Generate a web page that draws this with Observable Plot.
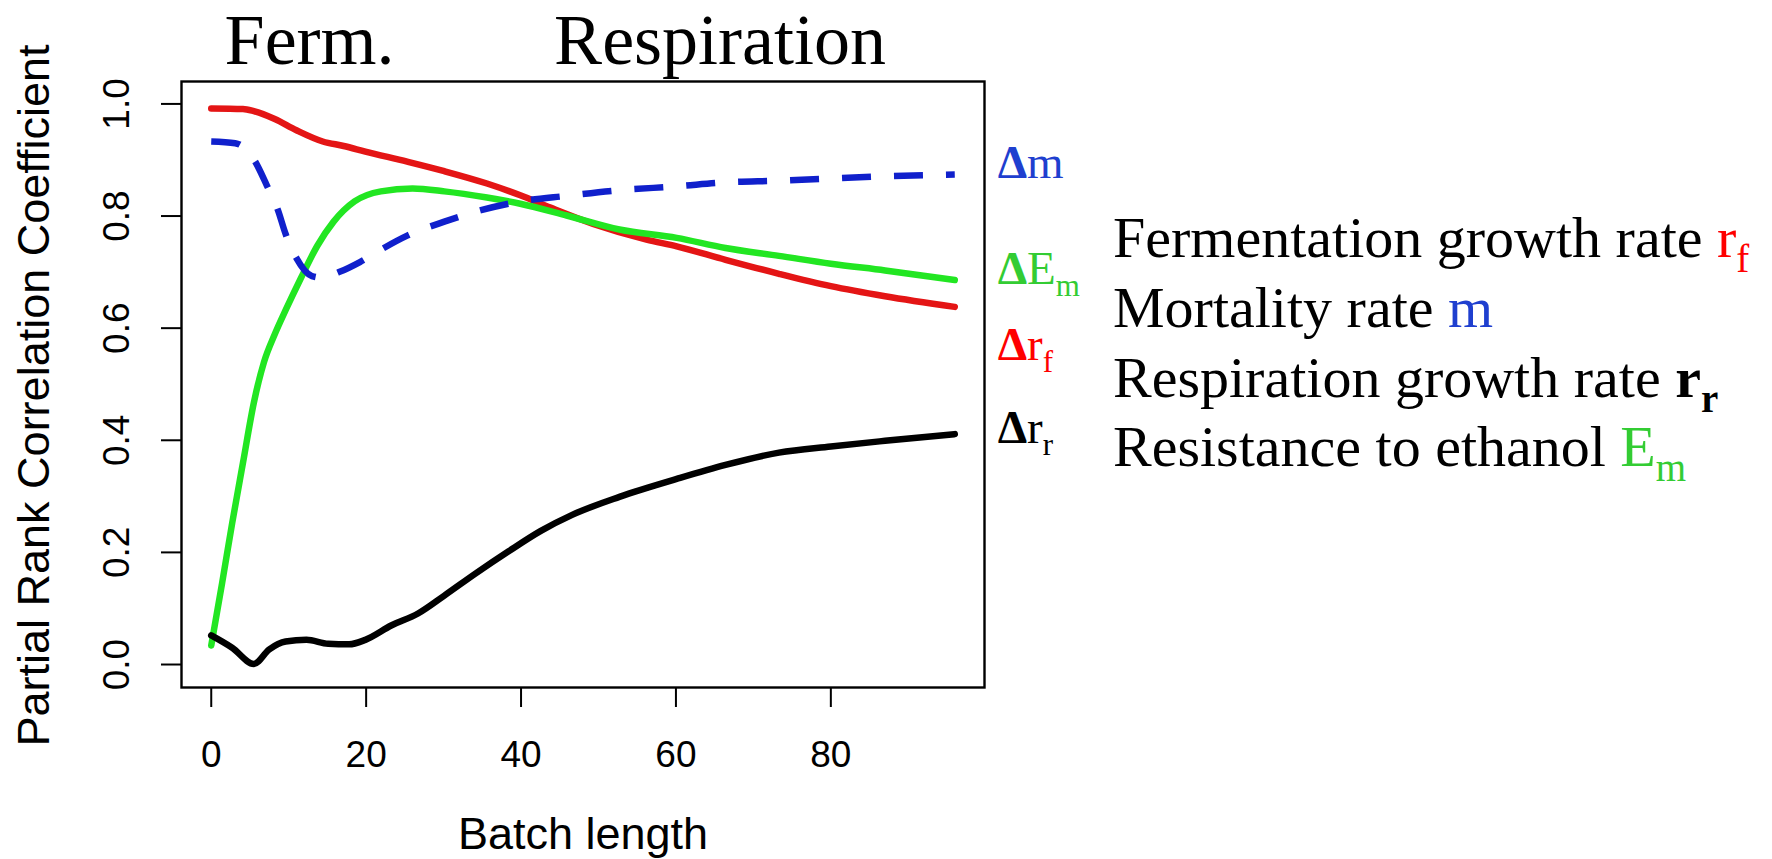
<!DOCTYPE html>
<html><head><meta charset="utf-8">
<script src="https://cdn.jsdelivr.net/npm/d3@7"></script>
<script src="https://cdn.jsdelivr.net/npm/@observablehq/plot@0.6"></script>
<style>
html,body{margin:0;padding:0;background:#fff;}
#chart{position:relative;width:1772px;height:859px;overflow:hidden;}
</style></head><body><div id="chart"></div>
<script>
// ---- data ----
const xTicks = [0, 20, 40, 60, 80];
const yTicks = [0, 0.2, 0.4, 0.6, 0.8, 1.0];
const phaseNames = ["Ferm.", "Respiration"];
const phaseCenters = [12.7, 65.7];

// Δr_f (red)
const rfX = [0, 4.1, 5.5, 8.2, 11.0, 14.4, 17.1, 19.9, 25.3, 30.1, 35.6, 39.9, 43.8, 49.3, 56.2, 60.1, 66.4, 73.3, 80, 87, 96];
const rfY = [0.992, 0.991, 0.987, 0.973, 0.953, 0.933, 0.925, 0.915, 0.897, 0.880, 0.858, 0.837, 0.815, 0.786, 0.758, 0.746, 0.722, 0.697, 0.675, 0.657, 0.638];
// ΔE_m (green)
const emX = [0, 1.4, 2.7, 4.1, 5.5, 6.8, 8.2, 9.6, 11.6, 13.7, 15.8, 18.5, 21.9, 26.0, 30.1, 35.6, 39.9, 45.9, 52.7, 60.1, 66.4, 73.3, 80, 87, 96];
const emY = [0.034, 0.145, 0.252, 0.360, 0.467, 0.539, 0.589, 0.632, 0.690, 0.747, 0.790, 0.826, 0.844, 0.849, 0.844, 0.833, 0.822, 0.801, 0.776, 0.761, 0.743, 0.729, 0.715, 0.703, 0.686];
// Δm (blue, dashed)
const mX = [0, 3.1, 5.5, 7.2, 8.6, 9.6, 11.0, 13.0, 14.4, 16.5, 19.2, 21.9, 25.3, 30.1, 34.2, 39.9, 45.9, 52.7, 60.1, 66.4, 73.3, 80, 87, 96];
const mY = [0.933, 0.930, 0.901, 0.854, 0.811, 0.768, 0.725, 0.693, 0.690, 0.700, 0.718, 0.740, 0.765, 0.790, 0.808, 0.826, 0.836, 0.846, 0.853, 0.860, 0.863, 0.867, 0.871, 0.874];
// Δr_r (black)
const rrX = [0, 2.7, 5.5, 7.5, 9.6, 12.3, 15.1, 17.8, 19.9, 23.3, 26.7, 30.1, 34.2, 38.4, 42.5, 46.6, 52.7, 60.1, 66.4, 73.3, 80, 87, 96];
const rrY = [0.052, 0.030, 0.001, 0.027, 0.041, 0.044, 0.037, 0.036, 0.044, 0.070, 0.091, 0.123, 0.163, 0.202, 0.238, 0.267, 0.299, 0.331, 0.356, 0.378, 0.389, 0.399, 0.411];

// end-of-line labels (Δ + symbol + subscript), placed in data coordinates
const endLabelX = 101.6;
const endSymbols = ["m", "E", "r", "r"];
const endSubs = ["", "m", "f", "r"];
const endLabelY = [0.867, 0.678, 0.542, 0.394];
const endColors = ["#1f3fcf", "#33cc33", "#ff0000", "#000000"];

// legend rows
const legendText = ["Fermentation growth rate ", "Mortality rate ", "Respiration growth rate ", "Resistance to ethanol "];
const legendSym = ["r", "m", "r", "E"];
const legendSub = ["f", "", "r", "m"];
const legendColor = ["#ff0000", "#1f3fcf", "#000000", "#33cc33"];
const legendBold = [false, false, true, false];

const toRows = (xs, ys) => xs.map((x, i) => ({x, y: ys[i]}));

const chart = Plot.plot({
  width: 1772, height: 859,
  marginTop: 81, marginBottom: 172, marginLeft: 181, marginRight: 788,
  x: {domain: [-3.84, 99.84]},
  y: {domain: [-0.041, 1.04]},
  style: {background: "transparent", fontFamily: "'Liberation Sans', Arial, sans-serif", color: "#000", overflow: "visible"},
  marks: [
    Plot.frame({stroke: "#000", strokeWidth: 2.4}),
    Plot.axisX({ticks: xTicks, tickSize: 20, tickPadding: 33, fontSize: 37, label: null, strokeWidth: 2, tickFormat: d => String(d)}),
    Plot.axisY({ticks: yTicks, tickSize: 20, tickPadding: 33, tickRotate: -90, fontSize: 37, label: null, strokeWidth: 2, tickFormat: d3.format(".1f")}),
    Plot.line(toRows(rfX, rfY), {x: "x", y: "y", stroke: "#e41515", strokeWidth: 6.5, curve: "monotone-x"}),
    Plot.line(toRows(emX, emY), {x: "x", y: "y", stroke: "#22e622", strokeWidth: 6.5, curve: "monotone-x"}),
    Plot.line(toRows(mX, mY), {x: "x", y: "y", stroke: "#1020cc", strokeWidth: 6.5, strokeDasharray: "29,23", strokeLinecap: "butt", curve: "monotone-x"}),
    Plot.line(toRows(rrX, rrY), {x: "x", y: "y", stroke: "#000", strokeWidth: 6.5, curve: "monotone-x"}),
    Plot.text(phaseNames, {x: (d, i) => phaseCenters[i], frameAnchor: "top", textAnchor: "middle", lineAnchor: "bottom", dy: -18, fontSize: 72, fontFamily: "'Liberation Serif', 'Times New Roman', serif", text: d => d}),
    Plot.text(["Batch length"], {frameAnchor: "bottom", textAnchor: "middle", lineAnchor: "bottom", dy: 161, fontSize: 45, text: d => d}),
    Plot.text(["Partial Rank Correlation Coefficient"], {frameAnchor: "left", textAnchor: "middle", rotate: -90, lineAnchor: "bottom", dx: -133, dy: 11, fontSize: 45, text: d => d})
  ]
});
document.getElementById("chart").appendChild(chart);

// rich-text labels (subscripts) using the chart's scales
const sx = chart.scale("x"), sy = chart.scale("y");
const svg = d3.select(chart);
const serif = "'Liberation Serif', 'Times New Roman', serif";
endSymbols.forEach((sym, i) => {
  const t = svg.append("text")
    .attr("x", sx.apply(endLabelX)).attr("y", sy.apply(endLabelY[i]))
    .attr("text-anchor", "start")
    .attr("font-family", serif).attr("font-size", 47).attr("fill", endColors[i]);
  t.append("tspan").attr("font-weight", "bold").text("\u0394");
  t.append("tspan").text(sym);
  if (endSubs[i]) t.append("tspan").attr("font-size", 31).attr("dy", 12).text(endSubs[i]);
});
const legendX = 1113, legendY0 = 257, legendStep = 69.8;
legendText.forEach((txt, i) => {
  const t = svg.append("text")
    .attr("x", legendX).attr("y", legendY0 + i * legendStep)
    .attr("text-anchor", "start")
    .attr("font-family", serif).attr("font-size", 58).attr("fill", "#000");
  t.append("tspan").text(txt);
  const s = t.append("tspan").attr("fill", legendColor[i]).text(legendSym[i]);
  if (legendBold[i]) s.attr("font-weight", "bold");
  if (legendSub[i]) {
    const b = t.append("tspan").attr("fill", legendColor[i]).attr("font-size", 39).attr("dy", 15).text(legendSub[i]);
    if (legendBold[i]) b.attr("font-weight", "bold");
  }
});
</script>
</body></html>
